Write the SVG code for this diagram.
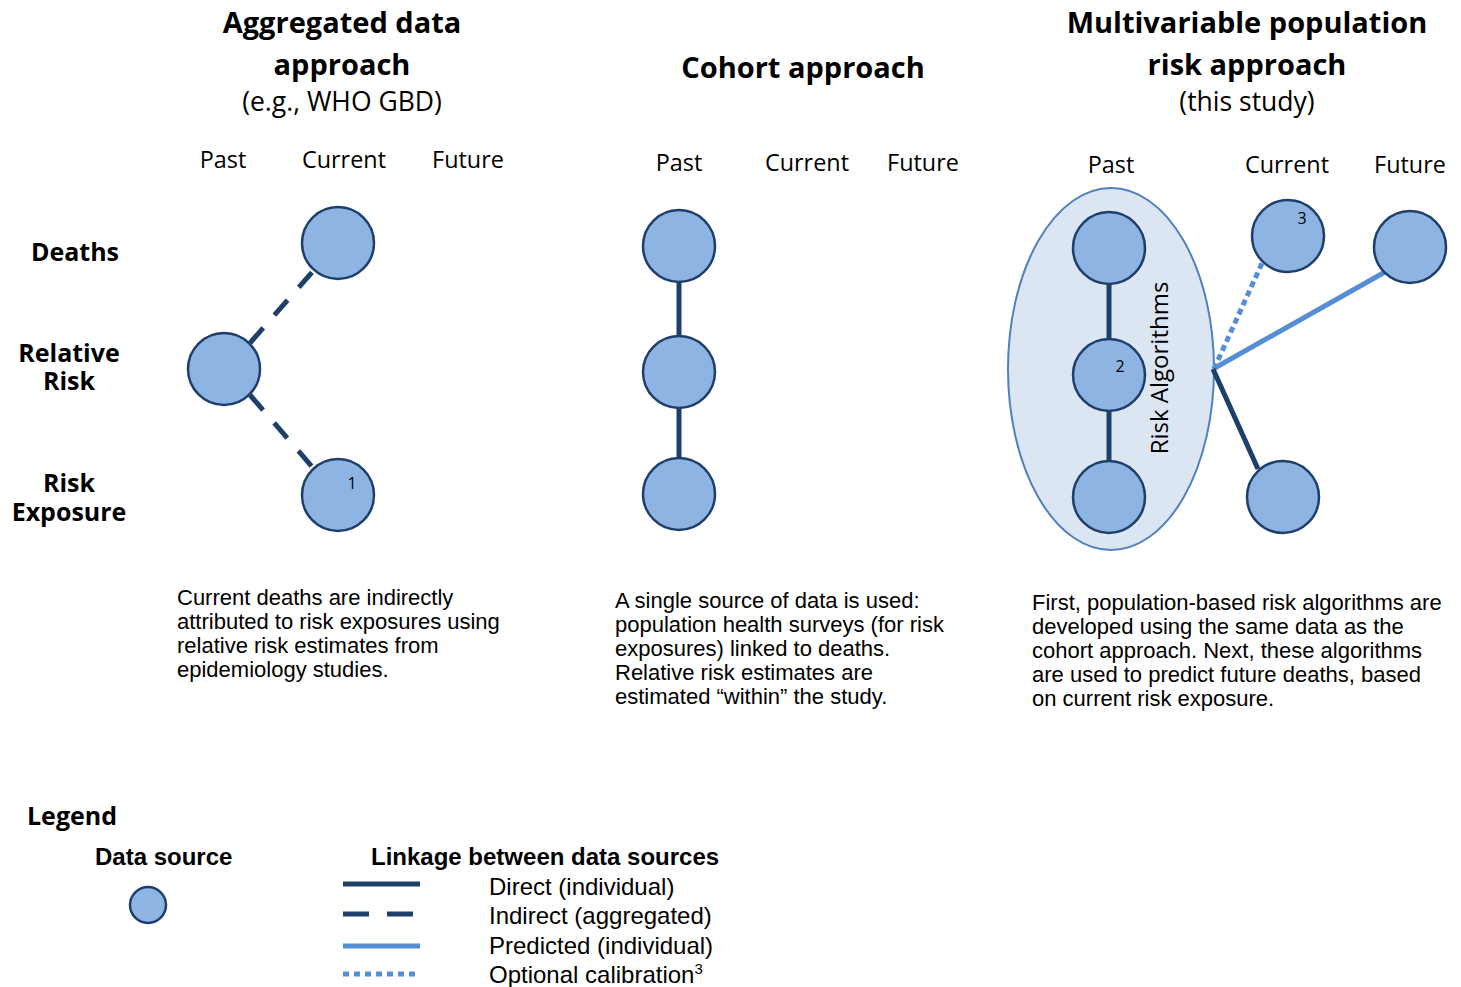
<svg xmlns="http://www.w3.org/2000/svg" width="1461" height="987" viewBox="0 0 1461 987">
<style>
.h{font-family:"Open Sans","Noto Sans",sans-serif;font-weight:bold;font-size:29px;fill:#000;text-anchor:middle}
.sub{font-family:"Open Sans","Noto Sans",sans-serif;font-size:26.5px;fill:#000;text-anchor:middle}
.col{font-family:"Open Sans","Noto Sans",sans-serif;font-size:23.4px;fill:#000;text-anchor:middle}
.row{font-family:"Open Sans","Noto Sans",sans-serif;font-weight:bold;font-size:25px;fill:#000;text-anchor:middle}
.body{font-family:"Liberation Sans",Arial,sans-serif;font-size:22px;fill:#000}
.lg{font-family:"Liberation Sans",Arial,sans-serif;font-size:24px;fill:#000}
.lgb{font-family:"Liberation Sans",Arial,sans-serif;font-weight:bold;font-size:24px;fill:#000}
.num{font-family:"Open Sans","Noto Sans",sans-serif;font-size:16px;fill:#000;text-anchor:middle}
.node{fill:#8EB4E3;stroke:#1F3F6B;stroke-width:2.5}
.direct{stroke:#1F3F6B;stroke-width:5;fill:none}
.indirect{stroke:#1F3F6B;stroke-width:5;stroke-dasharray:20 17;fill:none}
.pred{stroke:#558ED5;stroke-width:5;fill:none}
.opt{stroke:#558ED5;stroke-width:5;stroke-dasharray:6 4;fill:none}
</style>

<g id="titles">
<text class="h" x="342" y="33">Aggregated data</text>
<text class="h" x="342" y="75">approach</text>
<text class="sub" x="342" y="111">(e.g., WHO GBD)</text>
<text class="h" x="803" y="78">Cohort approach</text>
<text class="h" x="1247" y="33">Multivariable population</text>
<text class="h" x="1247" y="75">risk approach</text>
<text class="sub" x="1247" y="111">(this study)</text>
</g>

<g id="column-labels">
<text class="col" x="223" y="168">Past</text>
<text class="col" x="344" y="168">Current</text>
<text class="col" x="468" y="168">Future</text>
<text class="col" x="679" y="171">Past</text>
<text class="col" x="807" y="171">Current</text>
<text class="col" x="923" y="171">Future</text>
<text class="col" x="1111" y="173">Past</text>
<text class="col" x="1287" y="173">Current</text>
<text class="col" x="1410" y="173">Future</text>
</g>

<g id="row-labels">
<text class="row" x="75" y="261">Deaths</text>
<text class="row"><tspan x="69" y="362">Relative</tspan><tspan x="69" y="390">Risk</tspan></text>
<text class="row"><tspan x="69" y="492">Risk</tspan><tspan x="69" y="521">Exposure</tspan></text>
</g>

<g id="risk-algorithms">
<ellipse cx="1111" cy="369" rx="103" ry="181" fill="#DCE6F2" stroke="#4F81BD" stroke-width="2"/>
<text class="col" style="font-size:24px" transform="translate(1168,368) rotate(-90)" x="0" y="0">Risk Algorithms</text>
</g>

<g id="connectors">
<line class="indirect" x1="250" y1="343" x2="314" y2="270"/>
<line class="indirect" x1="250" y1="395" x2="314" y2="469"/>
<line class="direct" x1="679" y1="282" x2="679" y2="336"/>
<line class="direct" x1="679" y1="408" x2="679" y2="458"/>
<line class="direct" x1="1109" y1="284" x2="1109" y2="339"/>
<line class="direct" x1="1109" y1="411" x2="1109" y2="461"/>
<line class="opt" x1="1214" y1="369" x2="1263" y2="261"/>
<line class="pred" x1="1213" y1="369" x2="1385" y2="272"/>
<line class="direct" x1="1213" y1="369" x2="1258" y2="469"/>
</g>

<g id="agg-deaths"><circle class="node" cx="338" cy="243" r="36"/></g>
<g id="agg-rr"><circle class="node" cx="224" cy="369" r="36"/></g>
<g id="agg-exposure"><circle class="node" cx="338" cy="495" r="36"/><text class="num" x="352" y="489">1</text></g>

<g id="cohort-deaths"><circle class="node" cx="679" cy="246" r="36"/></g>
<g id="cohort-rr"><circle class="node" cx="679" cy="372" r="36"/></g>
<g id="cohort-exposure"><circle class="node" cx="679" cy="494" r="36"/></g>

<g id="mv-deaths"><circle class="node" cx="1109" cy="248" r="36"/></g>
<g id="mv-rr"><circle class="node" cx="1109" cy="375" r="36"/><text class="num" x="1120" y="372">2</text></g>
<g id="mv-exposure"><circle class="node" cx="1109" cy="497" r="36"/></g>
<g id="mv-current-top"><circle class="node" cx="1288" cy="236" r="36"/><text class="num" x="1302" y="224">3</text></g>
<g id="mv-future"><circle class="node" cx="1410" cy="247" r="36"/></g>
<g id="mv-current-bottom"><circle class="node" cx="1283" cy="497" r="36"/></g>

<g id="descriptions">
<text class="body" x="177" y="605">Current deaths are indirectly</text>
<text class="body" x="177" y="629">attributed to risk exposures using</text>
<text class="body" x="177" y="653">relative risk estimates from</text>
<text class="body" x="177" y="677">epidemiology studies.</text>
<text class="body" x="615" y="608">A single source of data is used:</text>
<text class="body" x="615" y="632">population health surveys (for risk</text>
<text class="body" x="615" y="656">exposures) linked to deaths.</text>
<text class="body" x="615" y="680">Relative risk estimates are</text>
<text class="body" x="615" y="704">estimated “within” the study.</text>
<text class="body" x="1032" y="610">First, population-based risk algorithms are</text>
<text class="body" x="1032" y="634">developed using the same data as the</text>
<text class="body" x="1032" y="658">cohort approach. Next, these algorithms</text>
<text class="body" x="1032" y="682">are used to predict future deaths, based</text>
<text class="body" x="1032" y="706">on current risk exposure.</text>
</g>

<g id="legend">
<text class="row" x="27" y="825" style="text-anchor:start">Legend</text>
<text class="lgb" x="95" y="865">Data source</text>
<circle class="node" cx="148" cy="905" r="18"/>
<text class="lgb" x="371" y="865">Linkage between data sources</text>
<line class="direct" x1="343" y1="884" x2="420" y2="884"/>
<line class="indirect" x1="343" y1="914" x2="420" y2="914" style="stroke-dasharray:26 18"/>
<line class="pred" x1="343" y1="946" x2="420" y2="946"/>
<line class="opt" x1="343" y1="974" x2="420" y2="974" style="stroke-dasharray:6 5"/>
<text class="lg" x="489" y="895">Direct (individual)</text>
<text class="lg" x="489" y="924">Indirect (aggregated)</text>
<text class="lg" x="489" y="954">Predicted (individual)</text>
<text class="lg" x="489" y="983">Optional calibration<tspan font-size="15" dy="-9">3</tspan></text>
</g>
</svg>
